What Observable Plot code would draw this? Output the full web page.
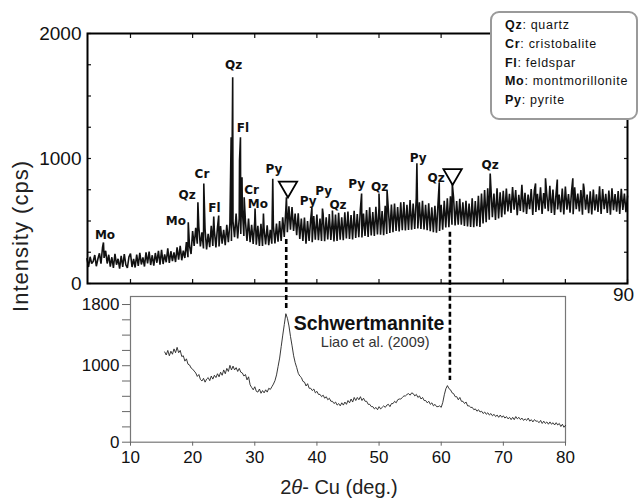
<!DOCTYPE html>
<html>
<head>
<meta charset="utf-8">
<script src="https://cdn.jsdelivr.net/npm/d3@7"></script>
<script src="https://cdn.jsdelivr.net/npm/@observablehq/plot@0.6"></script>
<style>
  html, body { margin: 0; padding: 0; background: #fff; }
  #wrap { position: relative; width: 639px; height: 501px; overflow: hidden; font-family: "Liberation Sans", Arial, sans-serif; color: #111; }
  #wrap svg { position: absolute; left: 0; top: 0; background: transparent; }
  .legend { position: absolute; left: 490px; top: 11px; width: 144px; height: 102px; border: 2px solid #9a9a9a; border-radius: 9px; background: #fff; box-sizing: content-box; padding-top: 3px; }
  .legend div { padding-left: 13px; font-size: 12.5px; letter-spacing: 0.7px; line-height: 18.8px; white-space: nowrap; color: #111; }
  .ytitle { position: absolute; left: 21px; top: 236px; transform: translate(-50%, -50%) rotate(-90deg); font-size: 22px; letter-spacing: 1px; line-height: 26px; white-space: nowrap; color: #222; }
  .xtitle { position: absolute; left: 339px; top: 477px; transform: translateX(-50%); font-size: 20px; line-height: 20px; white-space: nowrap; color: #222; }
</style>
</head>
<body>
<div id="wrap"></div>
<script>
// ---------- Top panel: measured XRD pattern (cps), 2θ from 3° step 0.25° ----------
const topStart = 3.0;
const topStep = 0.25;
const topIntensity = [
  198,132,214,160, 176,228,138,196, 242,158,290,205, 262,160,230,135, 210,124,238,150,
  198,118,222,132, 236,150,124,212, 240,132,196,128, 232,140,246,152, 208,136,250,160,
  256,148,226,142, 244,166,262,150, 270,156,232,170, 282,164,258,180, 248,172,290,190,
  302,186,262,204, 332,210,300,236, 420,300,446,318, 452,296,410,280, 436,272,398,290,
  462,300,424,288, 448,296,460,318, 430,306,470,330, 482,340,498,370, 560,360,520,396,
  596,380,500,340, 520,330,470,316, 498,310,462,300, 478,300,440,312, 466,306,430,318,
  462,320,480,334, 500,340,530,372, 588,410,618,430, 612,420,560,386, 562,356,520,340,
  528,318,500,340, 512,330,540,350, 552,346,520,340, 560,338,530,352, 556,348,520,336,
  552,340,566,350, 530,346,570,360, 576,356,548,352, 582,364,556,370, 592,368,560,380,
  588,372,610,384, 572,380,614,392, 608,390,580,386, 622,396,600,404, 632,410,640,420,
  612,416,650,426, 652,424,630,428, 668,430,640,436, 682,440,650,436, 662,432,630,426,
  642,418,610,410, 622,406,640,420, 630,430,662,448, 682,450,698,470, 690,464,660,470,
  678,470,650,460, 662,456,640,452, 682,450,660,458, 702,452,720,480, 748,490,762,510,
  780,530,720,508, 762,520,730,530, 742,552,760,576, 718,564,772,590, 748,546,710,580,
  790,570,726,556, 712,594,756,548, 744,572,718,586, 770,556,724,598, 716,578,782,564,
  752,548,720,592, 712,570,760,552, 776,590,716,566, 742,554,770,594, 720,576,748,550,
  766,590,712,562, 738,552,752,584, 714,572,778,556, 756,594,718,564, 744,550,762,586,
  716,574,740,556, 758,588,720,570, 700
];
// sharp reflections [2θ, cps]
const topPeaks = [
  [5.65, 328], [19.3, 490], [20.85, 650], [21.8, 800], [23.4, 536], [24.2, 544],
  [26.2, 1170], [26.45, 1650], [27.55, 984], [27.7, 1170], [27.95, 850], [28.3, 690],
  [30.05, 600], [31.4, 560], [32.9, 838], [35.1, 690], [39.2, 610], [40.9, 600],
  [42.5, 584], [47.2, 720], [50.0, 720], [51.3, 744], [56.1, 962], [59.7, 810],
  [61.8, 800], [67.9, 880], [75.2, 800], [76.8, 842], [78.7, 832], [81.2, 842], [82.9, 800]
];
// phase labels [text, 2θ, cps]
const peakLabels = [
  ["Mo", 5.9, 384], ["Mo", 17.3, 496], ["Qz", 19.1, 704], ["Cr", 21.5, 874], ["Fl", 23.5, 600],
  ["Qz", 26.6, 1744], ["Fl", 28.1, 1240], ["Cr", 29.5, 744], ["Mo", 30.5, 632], ["Py", 33.1, 912],
  ["Py", 38.6, 656], ["Py", 41.1, 742], ["Qz", 43.4, 624], ["Py", 46.4, 796], ["Qz", 50.1, 772],
  ["Py", 56.3, 1006], ["Qz", 59.2, 840], ["Qz", 67.9, 944]
];
// schwertmannite markers [2θ, cps]
const triangles = [[35.35, 773], [61.85, 873]];
const topYTicks = [0, 250, 500, 750, 1000, 1250, 1500, 1750, 2000];
const topYLabels = [0, 1000, 2000];
const topXTicks = [10, 20, 30, 40, 50, 60, 70, 80, 90];
const topXLabels = [90];

// ---------- Bottom panel: schwertmannite reference (Liao et al. 2009), 2θ from 15.5° step 0.25° ----------
const botStart = 15.5;
const botStep = 0.25;
const botIntensity = [
  1180,1140,1200,1130, 1190,1150,1220,1170, 1240,1170,1200,1120, 1130,1060,1090,1020,
  1010,970,955,930, 905,860,885,820, 800,835,785,825, 845,805,865,825,
  875,845,895,855, 915,875,945,895, 965,925,1005,945, 995,945,975,925,
  965,915,905,865, 885,815,855,750, 715,685,725,665, 655,695,640,675,
  645,685,655,705, 690,725,760,805, 880,990,1100,1250, 1400,1540,1680,1620,
  1520,1380,1260,1130, 1040,975,900,865, 845,795,785,735, 765,705,705,675,
  695,645,665,625, 625,595,615,575, 595,555,575,535, 535,505,525,485,
  505,475,515,485, 525,495,545,515, 565,525,585,545, 585,555,595,545,
  575,535,535,495, 495,465,465,435, 455,425,465,435, 455,475,455,485,
  495,465,505,505, 535,515,555,565, 565,585,605,605, 625,635,615,645,
  635,605,625,585, 605,565,585,545, 545,515,535,495, 515,475,495,465,
  465,475,455,520, 620,700,740,700, 685,645,635,595, 595,555,585,535,
  535,505,525,475, 475,455,455,425, 435,405,425,395, 405,375,395,365,
  385,355,375,345, 365,335,355,325, 355,325,345,315, 335,305,325,295,
  325,295,335,305, 325,295,315,285, 305,285,315,275, 295,265,295,275,
  275,255,285,245, 275,245,265,235, 265,235,255,225, 255,225,245,205,
  235,195,220
];
const botYTicks = [0, 200, 400, 600, 800, 1000, 1200, 1400, 1600, 1800];
const botYLabels = [0, 1000, 1800];
const botXTicks = [10, 20, 30, 40, 50, 60, 70, 80];
// dashed guide lines [2θ, from cps, to cps] (in bottom-panel units)
const guides = [[35.06, 2650, 1748], [61.4, 2745, 806]];
const annotations = [["Schwertmannite", 48.38, 1548], ["Liao et al. (2009)", 49.38, 1300]];
const legendItems = [["Qz", "quartz"], ["Cr", "cristobalite"], ["Fl", "feldspar"], ["Mo", "montmorillonite"], ["Py", "pyrite"]];

// ---------- build tables ----------
const topBase = topIntensity.map((v, i) => ({x: topStart + i * topStep, y: v}));
const topData = topBase.concat(topPeaks.map(([x, y]) => ({x, y}))).sort((a, b) => a.x - b.x);
const botData = botIntensity.map((v, i) => ({x: botStart + i * botStep, y: v}));
const noText = () => "";
const FONT = "Liberation Sans, Arial, sans-serif";

const topPlot = Plot.plot({
  width: 639, height: 501,
  marginLeft: 87, marginRight: 12, marginTop: 33, marginBottom: 218,
  x: {domain: [3.08, 90], label: null},
  y: {domain: [0, 2000], label: null},
  style: {fontFamily: FONT, background: "transparent", color: "#111"},
  marks: [
    Plot.line(topData, {x: "x", y: "y", stroke: "#111", strokeWidth: 1.6, strokeLinejoin: "miter", strokeMiterlimit: 2}),
    Plot.axisY(topYTicks, {anchor: "left", tickSize: -4, tickFormat: noText, strokeWidth: 1.2}),
    Plot.axisY(topYTicks, {anchor: "right", tickSize: -4, tickFormat: noText, strokeWidth: 1.2}),
    Plot.axisX(topXTicks, {anchor: "bottom", tickSize: -4, tickFormat: noText, strokeWidth: 1.2}),
    Plot.axisX(topXTicks, {anchor: "top", tickSize: -4, tickFormat: noText, strokeWidth: 1.2}),
    Plot.axisY(topYLabels, {anchor: "left", tickSize: 0, tickPadding: 6, fontSize: 19, tickFormat: d => String(d)}),
    Plot.axisX(topXLabels, {anchor: "bottom", tickSize: 0, tickPadding: 4, fontSize: 19, dx: -4, tickFormat: d => String(d)}),
    Plot.frame({stroke: "#000", strokeWidth: 2}),
    Plot.text(peakLabels, {x: d => d[1], y: d => d[2], text: d => d[0], fontFamily: "DejaVu Sans", fontWeight: "bold", fontSize: 12, fill: "#111"}),
    Plot.dot(triangles, {x: d => d[0], y: d => d[1], symbol: "triangle", r: 6.8, rotate: 180, fill: "white", stroke: "#000", strokeWidth: 1.8})
  ]
});

const botPlot = Plot.plot({
  width: 639, height: 501,
  marginLeft: 130, marginRight: 74, marginTop: 296, marginBottom: 59.3,
  x: {domain: [10, 80], label: null},
  y: {domain: [0, 1905], label: null},
  style: {fontFamily: FONT, background: "transparent", color: "#111"},
  marks: [
    Plot.frame({stroke: "#777", strokeWidth: 1.2}),
    Plot.axisY(botYTicks, {anchor: "left", tickSize: 8, tickPadding: 3, fontSize: 17, stroke: "#666",
      tickFormat: d => botYLabels.includes(d) ? String(d) : ""}),
    Plot.axisX(botXTicks, {anchor: "bottom", tickSize: 4, tickPadding: 5, fontSize: 17, stroke: "#666", tickFormat: d => String(d)}),
    Plot.line(botData, {x: "x", y: "y", stroke: "#222", strokeWidth: 0.9}),
    Plot.ruleX(guides, {x: d => d[0], y1: d => d[1], y2: d => d[2], stroke: "#000", strokeWidth: 2.6, strokeDasharray: "5,3", strokeLinecap: "butt"}),
    Plot.text(annotations.slice(0, 1), {x: d => d[1], y: d => d[2], text: d => d[0], fontSize: 19.5, fontWeight: "bold", fill: "#111"}),
    Plot.text(annotations.slice(1), {x: d => d[1], y: d => d[2], text: d => d[0], fontSize: 14.5, fill: "#333"})
  ]
});

const wrap = document.getElementById("wrap");
wrap.appendChild(topPlot);
wrap.appendChild(botPlot);

const legend = document.createElement("div");
legend.className = "legend";
legendItems.forEach(([code, name]) => {
  const row = document.createElement("div");
  const b = document.createElement("b");
  b.textContent = code;
  row.appendChild(b);
  row.appendChild(document.createTextNode(": " + name));
  legend.appendChild(row);
});
wrap.appendChild(legend);

const yt = document.createElement("div");
yt.className = "ytitle";
yt.textContent = "Intensity (cps)";
wrap.appendChild(yt);

const xt = document.createElement("div");
xt.className = "xtitle";
xt.innerHTML = "2<i>θ</i>- Cu (deg.)";
wrap.appendChild(xt);
</script>
</body>
</html>
